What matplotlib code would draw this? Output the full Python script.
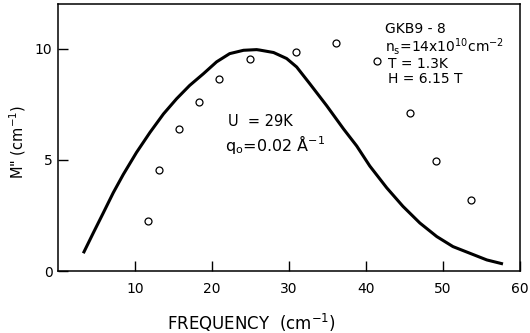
import matplotlib
matplotlib.use("Agg")
import matplotlib.pyplot as plt

plt.rcParams['font.family'] = ['DejaVu Sans']
plt.rcParams['mathtext.fontset'] = 'dejavusans'
plt.rcParams['mathtext.default'] = 'regular'

# Experimental data (open circles)
freq_data = [11.65, 13.1, 15.7, 18.3, 20.9, 24.9, 30.9, 36.1, 41.4, 45.7, 49.1, 53.7]
m_data = [2.25, 4.56, 6.38, 7.60, 8.64, 9.55, 9.85, 10.24, 9.43, 7.12, 4.95, 3.21]

# Theoretical curve
freq_curve = [3.29, 4.58, 5.88, 7.18, 8.48, 10.2, 11.95, 13.7, 15.4, 17.1, 18.9,
              20.6, 22.3, 24.1, 25.8, 26.2, 28.0, 29.7, 31.0, 32.7, 34.9, 37.1,
              38.8, 40.5, 42.7, 44.8, 47.0, 49.2, 51.3, 53.5, 55.7, 57.8]
m_curve = [0.80, 1.71, 2.61, 3.52, 4.34, 5.33, 6.23, 7.06, 7.74, 8.34, 8.87,
           9.40, 9.77, 9.92, 9.95, 9.93, 9.82, 9.55, 9.17, 8.42, 7.43, 6.38,
           5.62, 4.72, 3.74, 2.91, 2.16, 1.55, 1.10, 0.80, 0.50, 0.32]

xticks = [10, 20, 30, 40, 50, 60]
yticks = [0, 5, 10]

fig = plt.figure(figsize=(5.3, 3.33), dpi=100)
ax = fig.add_axes([0.1094, 0.186, 0.8716, 0.802])

ax.plot(freq_curve, m_curve, color='black', lw=2.2, solid_capstyle='butt',
        solid_joinstyle='round')
ax.plot(freq_data, m_data, 'o', mfc='white', mec='black', ms=5, mew=0.9)

ax.set_xlim(0, 60)
ax.set_ylim(0, 12)
ax.set_xticks(xticks)
ax.set_yticks(yticks)
ax.tick_params(axis='x', direction='in', length=7, width=1, pad=8, labelsize=10)
ax.tick_params(axis='y', direction='in', length=7.5, width=1, pad=4, labelsize=10)
for s in ax.spines.values():
    s.set_linewidth(1.1)

ax.set_xlabel('FREQUENCY  (cm$^{-1}$)', fontsize=12)
ax.xaxis.set_label_coords((251.5 - 58) / 462, -(322.5 - 271) / 267, transform=ax.transAxes)
ax.xaxis.label.set_va('center')
ax.set_ylabel('M" (cm$^{-1}$)', fontsize=10.5)
ax.yaxis.set_label_coords(-(58 - 18) / 462, (271 - 142) / 267, transform=ax.transAxes)
ax.yaxis.label.set_va('center')

ax.text(42.5, 10.88, 'GKB9 - 8', fontsize=10, va='center', ha='left')
ax.text(42.5, 10.08, 'n$_s$=14x10$^{10}$cm$^{-2}$', fontsize=10, va='center', ha='left')
ax.text(42.9, 9.32, 'T = 1.3K', fontsize=10, va='center', ha='left')
ax.text(42.9, 8.64, 'H = 6.15 T', fontsize=10, va='center', ha='left')

ax.text(22.1, 6.74, 'U  = 29K', fontsize=10.5, va='center', ha='left')
ax.text(21.7, 5.70, 'q$_o$=0.02 Å$^{-1}$', fontsize=11.5, va='center', ha='left')

fig.savefig('out.png', dpi=100)
